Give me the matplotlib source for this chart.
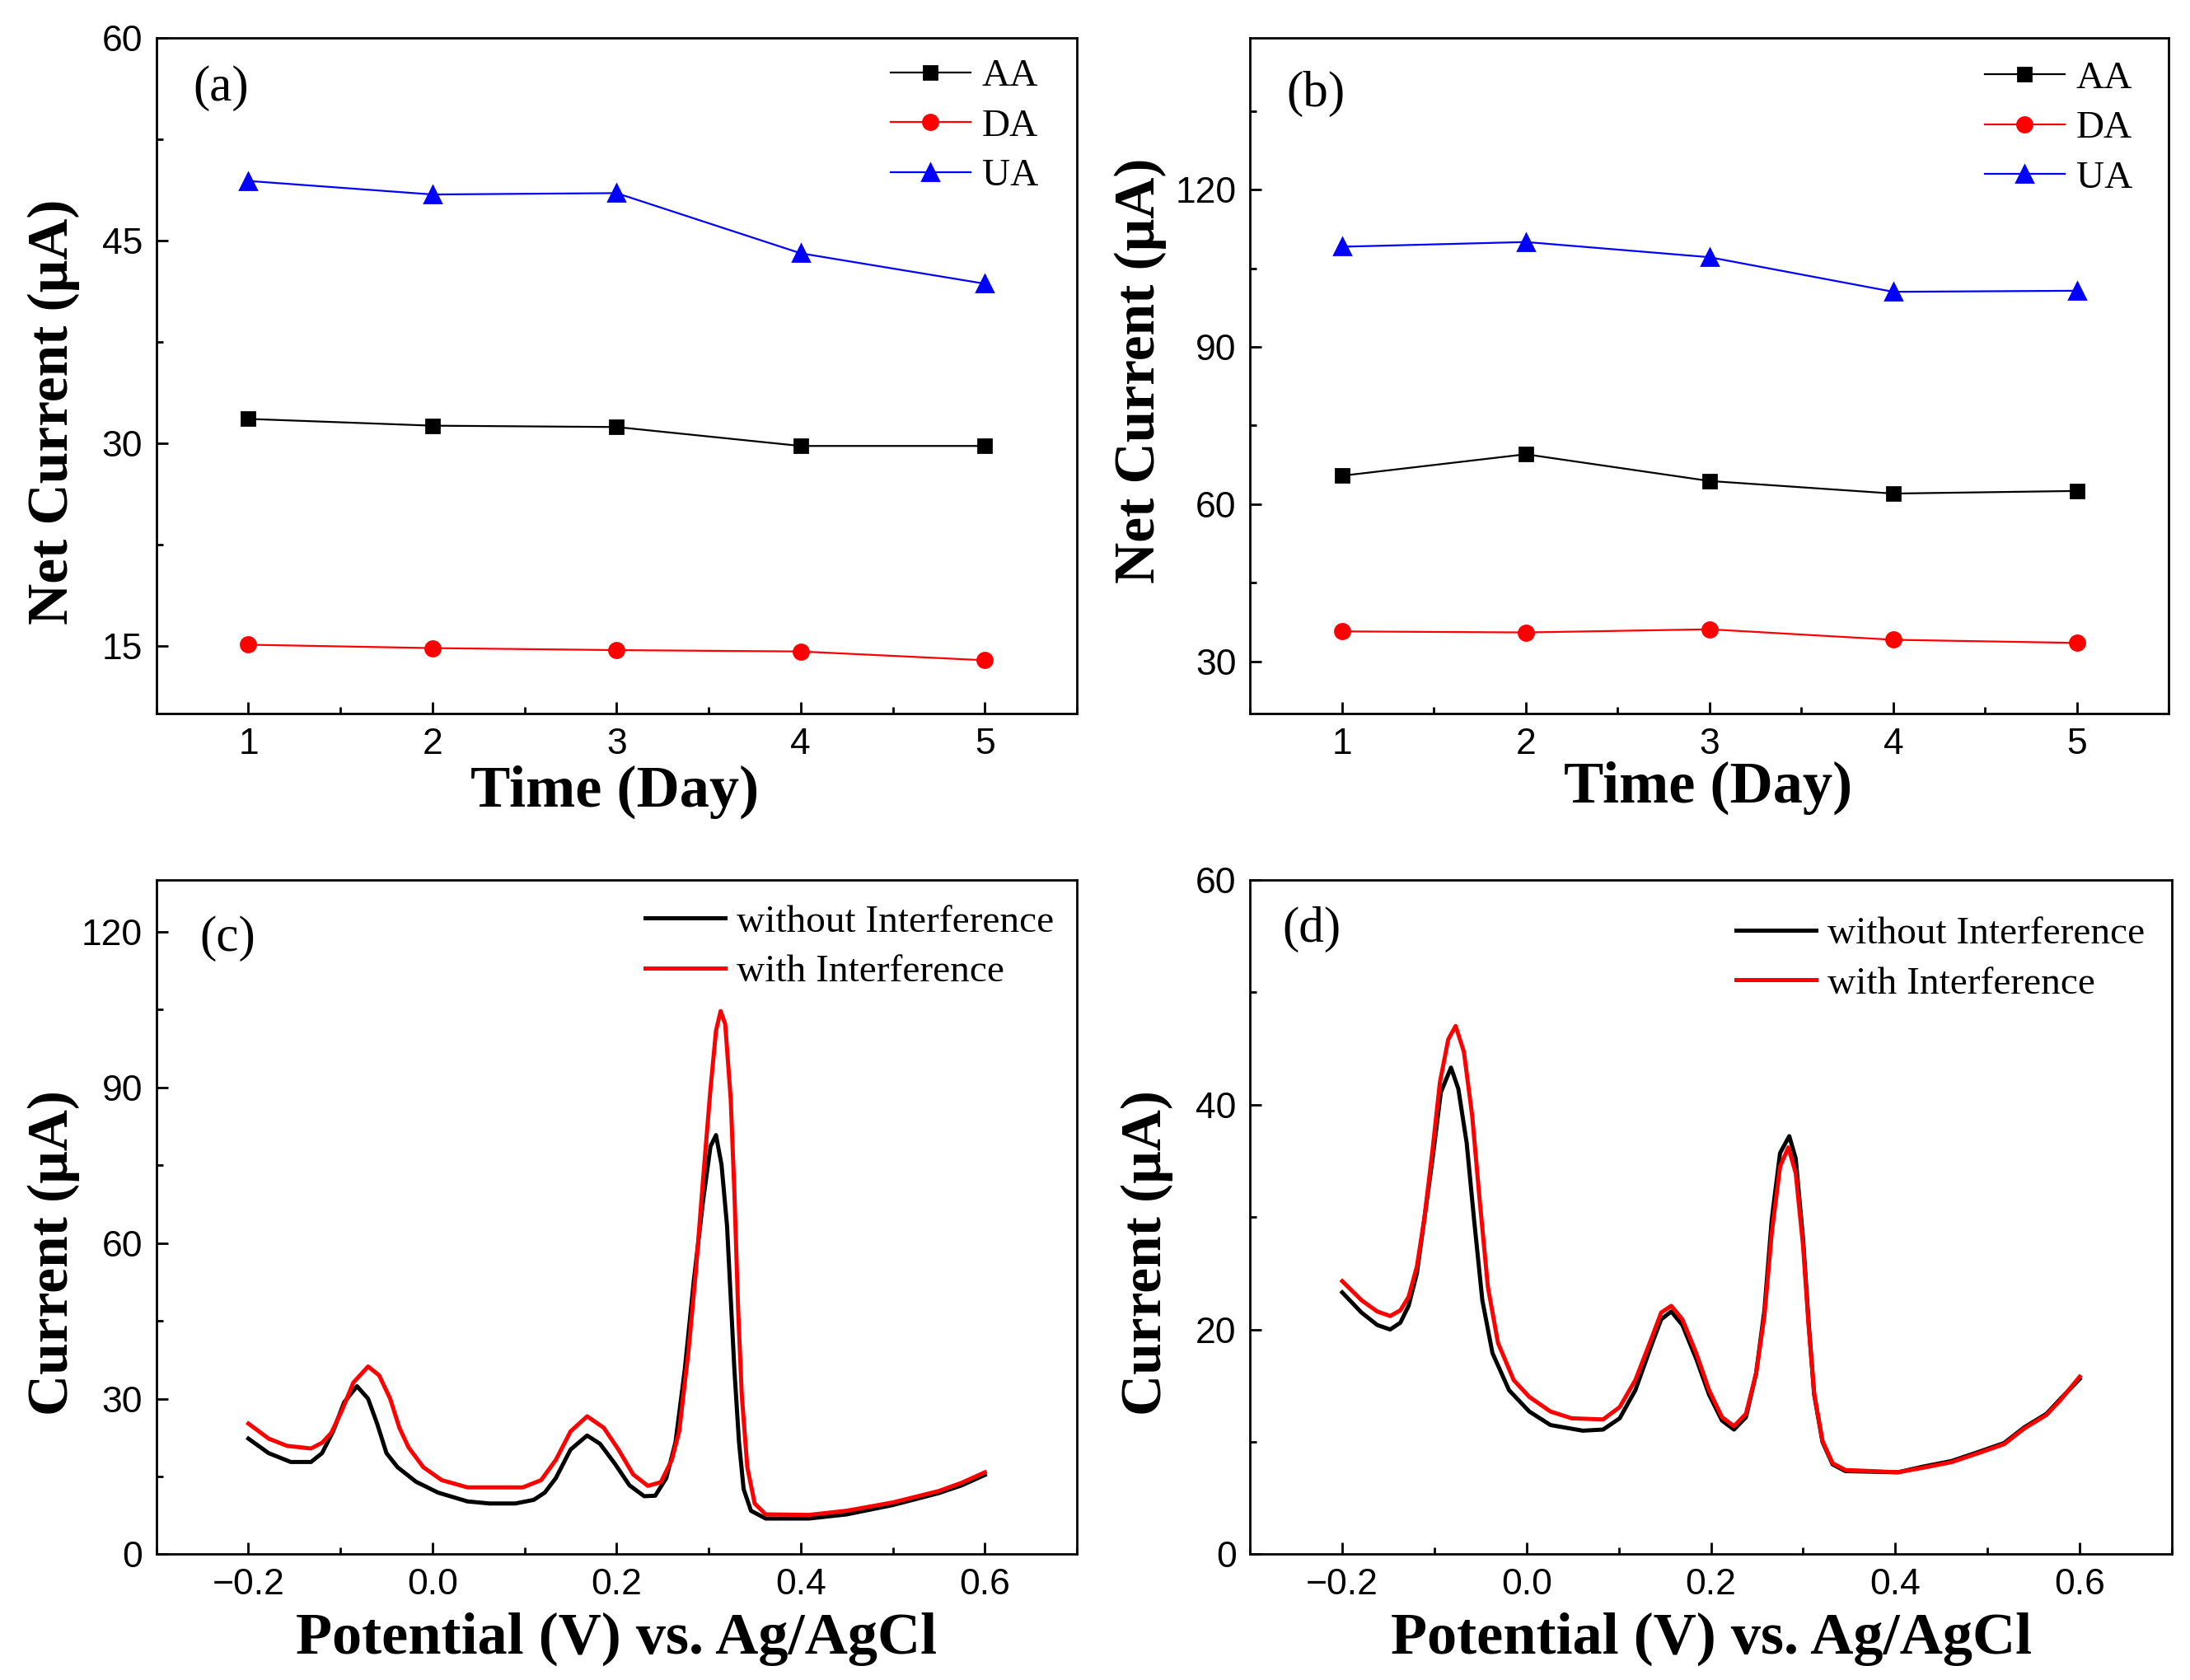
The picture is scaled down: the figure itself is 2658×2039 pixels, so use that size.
"""Stability (a, b) and interference (c, d) panels for the AA/DA/UA sensor."""
import matplotlib
matplotlib.use("Agg")
import matplotlib.pyplot as plt
from matplotlib.ticker import MultipleLocator

# ---- (a) / (b): net current over five days
days = [1, 2, 3, 4, 5]
a_aa = [31.8, 31.3, 31.2, 29.8, 29.8]
a_da = [15.1, 14.85, 14.7, 14.6, 13.95]
a_ua = [49.4, 48.4, 48.5, 44.05, 41.8]
b_aa = [65.4, 69.5, 64.4, 62.0, 62.5]
b_da = [35.7, 35.5, 36.1, 34.1, 33.5]
b_ua = [109.1, 110.0, 107.1, 100.5, 100.7]

# ---- (c): DPV
c_v_without = [-0.2, -0.178, -0.154, -0.132, -0.120, -0.108, -0.096, -0.082, -0.070, -0.060,
               -0.050, -0.038, -0.018, 0.006, 0.038, 0.062, 0.090, 0.110, 0.122, 0.134,
               0.150, 0.168, 0.182, 0.198, 0.214, 0.230, 0.242, 0.254, 0.264, 0.274,
               0.284, 0.294, 0.302, 0.308, 0.314, 0.320, 0.324, 0.328, 0.333, 0.338,
               0.346, 0.362, 0.409, 0.45, 0.50, 0.55, 0.575, 0.60]
c_i_without = [22.3, 19.5, 17.8, 17.8, 19.5, 23.7, 29.3, 32.4, 30.0, 25.1,
               19.5, 16.8, 14.0, 11.9, 10.2, 9.8, 9.8, 10.5, 11.9, 14.7,
               20.2, 22.9, 21.3, 17.5, 13.3, 11.2, 11.3, 14.7, 21.6, 35.5,
               52.9, 68.2, 78.6, 80.8, 75.1, 63.3, 49.4, 35.5, 21.6, 12.6,
               8.4, 6.9, 6.9, 7.7, 9.5, 11.8, 13.3, 15.3]
c_v_with = [-0.2, -0.178, -0.158, -0.132, -0.120, -0.110, -0.098, -0.086, -0.070, -0.058,
            -0.046, -0.036, -0.026, -0.010, 0.010, 0.038, 0.098, 0.118, 0.134, 0.150,
            0.168, 0.186, 0.202, 0.218, 0.234, 0.248, 0.260, 0.268, 0.278, 0.286,
            0.294, 0.302, 0.308, 0.313, 0.318, 0.324, 0.328, 0.332, 0.336, 0.342,
            0.350, 0.362, 0.409, 0.45, 0.50, 0.55, 0.575, 0.60]
c_i_with = [25.2, 22.3, 20.9, 20.4, 21.5, 23.4, 27.9, 33.1, 36.2, 34.5,
            30.0, 24.4, 20.6, 16.8, 14.3, 12.9, 12.9, 14.3, 18.2, 23.7,
            26.6, 24.4, 20.2, 15.4, 13.2, 13.9, 18.2, 23.7, 39.0, 54.3,
            72.4, 89.7, 100.9, 104.7, 102.2, 87.7, 69.6, 47.3, 30.7, 16.8,
            9.8, 7.7, 7.6, 8.4, 10.0, 12.2, 13.8, 15.8]

# ---- (d)
d_v_without = [-0.2, -0.179, -0.162, -0.148, -0.137, -0.128, -0.119, -0.111, -0.102, -0.093,
               -0.082, -0.074, -0.065, -0.057, -0.048, -0.037, -0.019, 0.003, 0.026, 0.061,
               0.083, 0.101, 0.118, 0.135, 0.146, 0.157, 0.169, 0.184, 0.198, 0.212,
               0.225, 0.238, 0.249, 0.258, 0.266, 0.275, 0.285, 0.292, 0.300, 0.306,
               0.312, 0.321, 0.332, 0.346, 0.403, 0.43, 0.461, 0.49, 0.518, 0.54,
               0.564, 0.58, 0.60]
d_i_without = [23.3, 21.5, 20.4, 20.0, 20.6, 22.1, 25.0, 29.8, 35.2, 41.1,
               43.3, 41.4, 36.6, 29.8, 22.6, 17.9, 14.6, 12.7, 11.5, 11.0,
               11.1, 12.1, 14.6, 18.5, 20.9, 21.6, 20.4, 17.4, 14.2, 11.9,
               11.1, 12.2, 16.1, 21.7, 29.8, 35.7, 37.2, 35.2, 28.0, 20.6,
               14.2, 10.0, 8.0, 7.4, 7.3, 7.8, 8.3, 9.1, 9.9, 11.3,
               12.5, 13.9, 15.6]
d_v_with = [-0.2, -0.179, -0.162, -0.148, -0.137, -0.128, -0.119, -0.111, -0.102, -0.094,
            -0.085, -0.077, -0.068, -0.059, -0.051, -0.042, -0.031, -0.014, 0.003, 0.026,
            0.049, 0.083, 0.101, 0.118, 0.135, 0.146, 0.157, 0.169, 0.184, 0.198,
            0.212, 0.225, 0.238, 0.249, 0.258, 0.266, 0.275, 0.284, 0.292, 0.300,
            0.306, 0.312, 0.321, 0.332, 0.346, 0.403, 0.43, 0.461, 0.49, 0.518,
            0.54, 0.564, 0.58, 0.60]
d_i_with = [24.3, 22.6, 21.6, 21.2, 21.7, 22.9, 25.6, 29.8, 36.0, 42.0,
            45.8, 47.0, 44.7, 39.0, 31.6, 23.8, 18.8, 15.5, 14.0, 12.7,
            12.1, 12.0, 13.1, 15.5, 19.1, 21.5, 22.1, 20.9, 17.9, 14.6,
            12.2, 11.4, 12.5, 16.1, 21.2, 28.6, 34.5, 36.2, 33.9, 27.4,
            20.3, 14.3, 10.1, 8.1, 7.5, 7.3, 7.7, 8.2, 9.0, 9.8,
            11.2, 12.4, 13.8, 15.8]

SERIF = ["Liberation Serif", "DejaVu Serif"]
SANS = ["Liberation Sans", "DejaVu Sans"]
plt.rcParams["font.family"] = SANS
plt.rcParams["axes.linewidth"] = 1.0

fig = plt.figure(figsize=(13.29, 10.195), dpi=200)
ax_a = fig.add_axes([0.0714, 0.5752, 0.4203, 0.4024])
ax_b = fig.add_axes([0.5708, 0.5752, 0.4196, 0.4024])
ax_c = fig.add_axes([0.0714, 0.0748, 0.4203, 0.4015])
ax_d = fig.add_axes([0.5708, 0.0748, 0.4209, 0.4015])

LEGEND_KW = dict(loc="upper left", frameon=False, prop={"family": SERIF, "size": 17},
                 handlelength=2.05, handletextpad=0.3, labelspacing=0.37,
                 borderaxespad=0.3)


def style(ax, xmaj, ymaj):
    ax.xaxis.set_major_locator(MultipleLocator(xmaj))
    ax.xaxis.set_minor_locator(MultipleLocator(xmaj / 2))
    ax.yaxis.set_major_locator(MultipleLocator(ymaj))
    ax.yaxis.set_minor_locator(MultipleLocator(ymaj / 2))
    ax.tick_params(which="both", direction="in", top=False, right=False, width=1.0)
    ax.tick_params(which="major", length=5, pad=6, labelsize=16)
    ax.tick_params(which="minor", length=3)


def stability(ax, aa, da, ua, ylim, ymaj, tag, ylab_x, ylab_y, xlab_y, leg_xy):
    ax.plot(days, aa, "-s", color="black", lw=0.8, ms=6, label="AA")
    ax.plot(days, da, "-o", color="red", lw=0.8, ms=6.5, label="DA")
    ax.plot(days, ua, "-^", color="blue", lw=0.8, ms=7, label="UA")
    ax.set_xlim(0.5, 5.5)
    ax.set_ylim(*ylim)
    style(ax, 1, ymaj)
    ax.set_xlabel("Time (Day)", family=SERIF, fontweight="bold", fontsize=26)
    ax.set_ylabel("Net Current (μA)", family=SERIF, fontweight="bold", fontsize=25)
    ax.xaxis.set_label_coords(0.498, xlab_y)
    ax.yaxis.set_label_coords(ylab_x, ylab_y)
    ax.text(0.04, tag[1], tag[0], transform=ax.transAxes, family=SERIF,
            fontsize=22, va="center")
    ax.legend(bbox_to_anchor=leg_xy, **LEGEND_KW)


def dpv(ax, vw, iw, vi, ii, ylim, ymaj, tag, leg_xy):
    ax.plot(vw, iw, color="black", lw=1.8, solid_joinstyle="round",
            label="without Interference")
    ax.plot(vi, ii, color="red", lw=1.8, solid_joinstyle="round",
            label="with Interference")
    ax.set_xlim(-0.3, 0.7)
    ax.set_ylim(*ylim)
    style(ax, 0.2, ymaj)
    ax.xaxis.set_major_formatter(plt.FuncFormatter(lambda v, p: f"{v:.1f}".replace("-", "\u2212")))
    ax.set_xlabel("Potential (V) vs. Ag/AgCl", family=SERIF, fontweight="bold", fontsize=26)
    ax.set_ylabel("Current (μA)", family=SERIF, fontweight="bold", fontsize=25)
    ax.xaxis.set_label_coords(0.5, -0.085)
    ax.yaxis.set_label_coords(-0.083, 0.447)
    ax.text(tag[1], tag[2], tag[0], transform=ax.transAxes, family=SERIF,
            fontsize=22, va="center")
    ax.legend(bbox_to_anchor=leg_xy, **LEGEND_KW)


stability(ax_a, a_aa, a_da, a_ua, (10, 60), 15, ("(a)", 0.925), -0.083, 0.446, -0.076,
          (0.768, 1.009))
stability(ax_b, b_aa, b_da, b_ua, (20, 149), 30, ("(b)", 0.917), -0.091, 0.508, -0.070,
          (0.770, 1.006))
dpv(ax_c, c_v_without, c_i_without, c_v_with, c_i_with, (0, 130), 30,
    ("(c)", 0.047, 0.913), (0.5015, 1.004))
dpv(ax_d, d_v_without, d_i_without, d_v_with, d_i_with, (0, 60), 20,
    ("(d)", 0.035, 0.927), (0.4977, 0.986))

fig.savefig("out.png", dpi=200)
